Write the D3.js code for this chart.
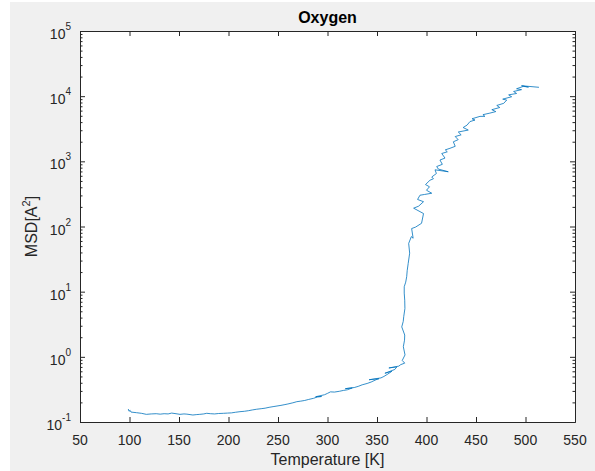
<!DOCTYPE html>
<html>
<head>
<meta charset="utf-8">
<script src="https://cdn.jsdelivr.net/npm/d3@7"></script>
<style>
  body { margin: 0; background: #fff; }
  svg text { font-family: "Liberation Sans", Arial, Helvetica, sans-serif; fill: #262626; }
</style>
</head>
<body>
<div id="chart"></div>
<script>
// temperature [K] (goes back and forth where the curve zigzags)
temperature = [
  98.8, 99.5, 100.6, 101.5, 107, 112, 117, 122, 127, 131, 135, 139, 142.6, 147, 151, 155, 158, 164, 168, 171,
  175, 178, 182, 186, 190, 195, 199, 203, 207, 211.6, 216, 220, 224, 228.5, 233, 237, 241, 245, 249, 253,
  257, 260, 265, 269, 273, 277, 281, 286, 290, 294, 288, 297, 300, 303, 307, 312, 316, 320, 325, 318,
  327, 331, 335, 340, 344, 349, 352, 342, 354, 357, 361, 365, 358, 368, 370, 362, 372, 374, 378, 375.5,
  378.3, 376.6, 377.8, 378, 375, 376.5, 377, 378.2, 378, 377.5, 377.5, 379, 380, 380.5, 381.5, 383, 382, 384.7,
  386.5, 385, 389, 395, 397, 387, 392, 397, 391, 393.4, 398, 405.3, 400, 403, 399, 403.5, 407, 405.3, 410,
  408.6, 422, 412, 410.3, 416, 413.6, 418.7, 415.4, 421, 419, 423.7, 429, 427.1, 432, 429, 435, 432.1, 442.2,
  437, 441, 443.9, 449, 446, 454, 459, 457, 464, 470, 466, 474, 471, 478, 481, 477, 486, 483, 491, 488,
  496, 491, 497.8, 503, 496, 513.6
];
// MSD [A^2]
msd = [
  0.158, 0.146, 0.151, 0.142, 0.139, 0.136, 0.131, 0.133, 0.134, 0.132, 0.134, 0.133, 0.137, 0.134, 0.131, 0.133, 0.132, 0.128, 0.130, 0.131,
  0.133, 0.136, 0.134, 0.133, 0.135, 0.136, 0.137, 0.138, 0.141, 0.144, 0.146, 0.149, 0.153, 0.157, 0.160, 0.163, 0.168, 0.172, 0.176, 0.180,
  0.185, 0.189, 0.197, 0.205, 0.209, 0.214, 0.222, 0.231, 0.243, 0.246, 0.244, 0.262, 0.275, 0.290, 0.288, 0.296, 0.305, 0.312, 0.333, 0.325,
  0.338, 0.352, 0.372, 0.390, 0.410, 0.445, 0.462, 0.445, 0.475, 0.50, 0.545, 0.60, 0.56, 0.64, 0.70, 0.675, 0.72, 0.76, 0.80, 0.88,
  1.07, 1.43, 1.8, 2.16, 2.88, 3.5, 4.13, 5.5, 7.4, 9.5, 11.9, 14, 17, 21, 27, 39, 55, 70,
  66, 93, 98, 112, 158, 191, 205, 240, 260, 302, 310, 324, 360, 407, 440, 513, 540, 575, 650,
  741, 692, 760, 832, 900, 1047, 1122, 1318, 1400, 1500, 1585, 1700, 1995, 2150, 2400, 2550, 2818, 3020,
  3300, 3600, 4074, 4300, 4500, 4898, 4900, 5200, 5495, 5800, 6200, 6700, 7200, 7762, 8710, 9000, 9800, 10470, 11000, 11800,
  12590, 13000, 14130, 13800, 14450, 13680
];
xTicks = [50, 100, 150, 200, 250, 300, 350, 400, 450, 500, 550];
yExponents = [-1, 0, 1, 2, 3, 4, 5];

titleText = "Oxygen";
xLabel = "Temperature [K]";

var W = 595, H = 471;
var plot = {left: 80, right: 575, top: 31, bottom: 422};

var svg = d3.select("#chart").append("svg")
    .attr("width", W)
    .attr("height", H);

// figure background
svg.append("rect").attr("x", 10).attr("y", 2).attr("width", W - 10).attr("height", H - 2).attr("fill", "#f0f0f0");
svg.append("rect")
    .attr("x", plot.left).attr("y", plot.top)
    .attr("width", plot.right - plot.left).attr("height", plot.bottom - plot.top)
    .attr("fill", "#fff");

var x = d3.scaleLinear().domain([50, 550]).range([plot.left, plot.right]);
var y = d3.scaleLog().domain([0.1, 1e5]).range([plot.bottom, plot.top]);

var yMajor = yExponents.map(function(e){ return Math.pow(10, e); });
var yMinor = y.ticks().filter(function(v){
    var l = Math.log10(v);
    return Math.abs(l - Math.round(l)) > 1e-6;
});

// data line
var line = d3.line()
    .x(function(d){ return x(d[0]); })
    .y(function(d){ return y(d[1]); });
var pts = temperature.map(function(t, i){ return [t, msd[i]]; });

svg.append("path")
    .datum(pts)
    .attr("fill", "none")
    .attr("stroke", "#0072BD")
    .attr("stroke-width", 0.8)
    .attr("stroke-linejoin", "round")
    .attr("d", line);

function styleAxis(g){
    g.select(".domain").attr("stroke", "#262626");
    g.selectAll(".tick line").attr("stroke", "#262626");
    g.selectAll("text").remove();
}

// bottom
svg.append("g")
    .attr("transform", "translate(0," + plot.bottom + ")")
    .call(d3.axisBottom(x).tickValues(xTicks).tickSize(-5).tickSizeOuter(0))
    .call(styleAxis);
// top
svg.append("g")
    .attr("transform", "translate(0," + plot.top + ")")
    .call(d3.axisTop(x).tickValues(xTicks).tickSize(-5).tickSizeOuter(0))
    .call(styleAxis);
// left major + minor
svg.append("g")
    .attr("transform", "translate(" + plot.left + ",0)")
    .call(d3.axisLeft(y).tickValues(yMajor).tickSize(-5).tickSizeOuter(0))
    .call(styleAxis);
svg.append("g")
    .attr("transform", "translate(" + plot.left + ",0)")
    .call(d3.axisLeft(y).tickValues(yMinor).tickSize(-2.5).tickSizeOuter(0))
    .call(styleAxis);
// right major + minor
svg.append("g")
    .attr("transform", "translate(" + plot.right + ",0)")
    .call(d3.axisRight(y).tickValues(yMajor).tickSize(-5).tickSizeOuter(0))
    .call(styleAxis);
svg.append("g")
    .attr("transform", "translate(" + plot.right + ",0)")
    .call(d3.axisRight(y).tickValues(yMinor).tickSize(-2.5).tickSizeOuter(0))
    .call(styleAxis);

// x tick labels
svg.append("g").selectAll("text")
    .data(xTicks)
    .enter().append("text")
    .attr("x", function(d){ return x(d); })
    .attr("y", plot.bottom + 23)
    .attr("text-anchor", "middle")
    .attr("font-size", 14)
    .text(function(d){ return d; });

// y tick labels, 10^k
var yl = svg.append("g").selectAll("text")
    .data(yExponents)
    .enter().append("text")
    .attr("x", plot.left - 9)
    .attr("y", function(d){ return y(Math.pow(10, d)) + 8; })
    .attr("text-anchor", "end")
    .attr("font-size", 14);
yl.append("tspan").text("10");
yl.append("tspan")
    .attr("dy", -9)
    .attr("font-size", 10)
    .text(function(d){ return d; });

// title
svg.append("text")
    .attr("x", (plot.left + plot.right) / 2)
    .attr("y", 23)
    .attr("text-anchor", "middle")
    .attr("font-size", 16)
    .attr("font-weight", "bold")
    .style("fill", "#000")
    .text(titleText);

// x label
svg.append("text")
    .attr("x", (plot.left + plot.right) / 2)
    .attr("y", 465)
    .attr("text-anchor", "middle")
    .attr("font-size", 16)
    .text(xLabel);

// y label MSD[A^2]
var ylab = svg.append("text")
    .attr("transform", "translate(37," + ((plot.top + plot.bottom) / 2) + ") rotate(-90)")
    .attr("text-anchor", "middle")
    .attr("font-size", 16);
ylab.append("tspan").text("MSD[A");
ylab.append("tspan").attr("dy", -7).attr("font-size", 11).text("2");
ylab.append("tspan").attr("dy", 7).text("]");
</script>
</body>
</html>
